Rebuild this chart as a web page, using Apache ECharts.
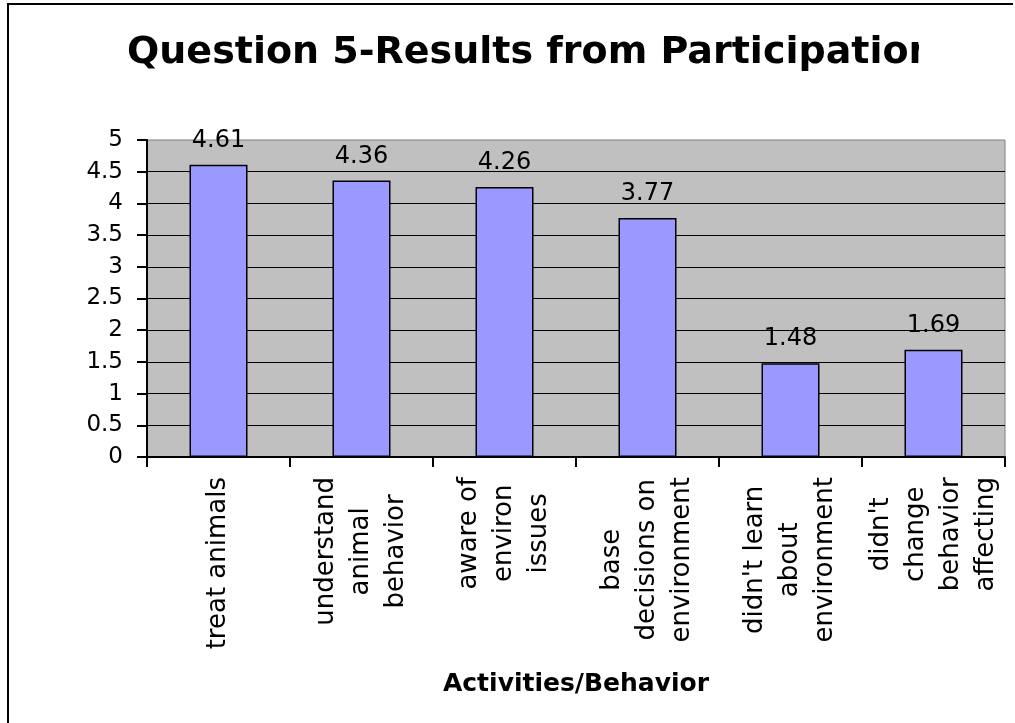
<!DOCTYPE html>
<html>
<head>
<meta charset="utf-8">
<title>Question 5-Results from Participation</title>
<script src="https://cdn.jsdelivr.net/npm/echarts@6/dist/echarts.min.js"></script>
<style>
    html, body { margin: 0; padding: 0; background: #fff; }
    #chart { width: 1015px; height: 723px; }
</style>
</head>
<body>
<div id="chart"></div>
<script>
// 图表数据
var chartTitle = 'Question 5-Results from Participation';
var axisTitle = 'Activities/Behavior';
var categories = [
    'treat animals',
    'understand\nanimal\nbehavior',
    'aware of\nenviron\nissues',
    'base\ndecisions on\nenvironment',
    "didn't learn\nabout\nenvironment",
    "didn't\nchange\nbehavior\naffecting"
];
var scores = [4.61, 4.36, 4.26, 3.77, 1.48, 1.69];

var chart = echarts.init(document.getElementById('chart'));

var option = {
    backgroundColor: '#ffffff',
    animation: false,
    textStyle: { fontFamily: 'DejaVu Sans', color: '#000' },
    // 外框 + 标题(右侧被截断)
    graphic: [
        {
            type: 'polyline',
            shape: { points: [[1013, 4], [8, 4], [8, 740]] },
            style: { stroke: '#000', lineWidth: 2, fill: null },
            z: 50
        },
        {
            type: 'text',
            left: 127,
            top: 34,
            style: {
                text: chartTitle,
                fontFamily: 'DejaVu Sans',
                fontWeight: 'bold',
                fontSize: 38,
                fill: '#000'
            },
            z: 10
        },
        {
            type: 'rect',
            shape: { x: 919, y: 20, width: 90, height: 80 },
            style: { fill: '#ffffff' },
            z: 20
        }
    ],
    grid: {
        left: 147,
        right: 10,
        top: 140,
        bottom: 266,
        show: true,
        backgroundColor: '#C0C0C0',
        borderColor: '#808080',
        borderWidth: 1,
        containLabel: false,
        outerBoundsMode: 'none'
    },
    xAxis: {
        type: 'category',
        data: categories,
        boundaryGap: true,
        name: axisTitle,
        nameLocation: 'middle',
        nameGap: 215,
        nameTextStyle: {
            fontFamily: 'DejaVu Sans',
            fontWeight: 'bold',
            fontSize: 25,
            color: '#000'
        },
        axisLine: { show: true, lineStyle: { color: '#000', width: 2 } },
        axisTick: {
            show: true,
            inside: false,
            alignWithLabel: false,
            interval: 0,
            length: 10,
            lineStyle: { color: '#000', width: 2 }
        },
        axisLabel: {
            interval: 0,
            rotate: 90,
            margin: 20,
            hideOverlap: false,
            // 每行居中对齐
            formatter: function (value) {
                return value.split('\n').map(function (s) {
                    return '{c|' + s + '}';
                }).join('\n');
            },
            rich: {
                c: {
                    align: 'center',
                    fontFamily: 'DejaVu Sans',
                    fontSize: 26,
                    lineHeight: 35,
                    color: '#000'
                }
            }
        },
        splitLine: { show: false }
    },
    yAxis: {
        type: 'value',
        min: 0,
        max: 5,
        interval: 0.5,
        axisLine: { show: true, lineStyle: { color: '#000', width: 2 } },
        axisTick: { show: true, length: 10, lineStyle: { color: '#000', width: 2 } },
        axisLabel: {
            margin: 24,
            fontFamily: 'DejaVu Sans',
            fontSize: 23,
            color: '#000'
        },
        splitLine: {
            show: true,
            showMinLine: false,
            showMaxLine: false,
            lineStyle: { color: '#000', width: 1 }
        }
    },
    series: [{
        name: 'Score',
        type: 'bar',
        data: scores,
        barWidth: 58,
        itemStyle: {
            color: '#9999FF',
            borderColor: '#000',
            borderWidth: 1.5
        },
        label: {
            show: true,
            position: 'top',
            distance: 12,
            fontFamily: 'DejaVu Sans',
            fontSize: 24,
            color: '#000'
        }
    }]
};

chart.setOption(option);
</script>
</body>
</html>
